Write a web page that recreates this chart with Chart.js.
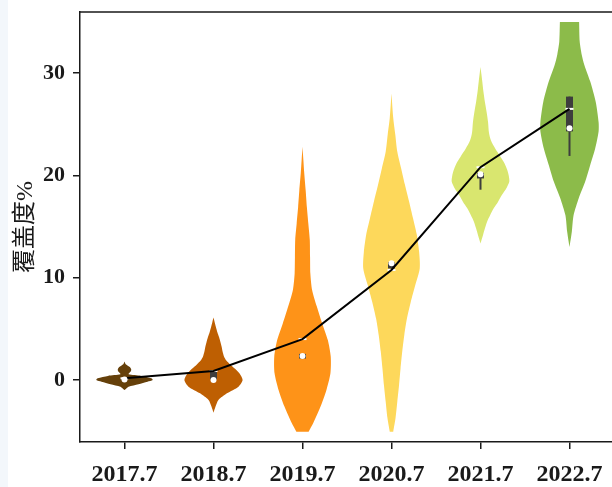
<!DOCTYPE html>
<html>
<head>
<meta charset="utf-8">
<script src="https://cdn.jsdelivr.net/npm/chart.js@4.4.1/dist/chart.umd.min.js"></script>
<style>
  html, body { margin: 0; padding: 0; background: #f3f7fb; overflow: hidden; }
  #wrap { position: absolute; left: 8px; top: 0; width: 612px; height: 487px; background: #fff; }
</style>
</head>
<body>
<div id="wrap"><canvas id="c"></canvas></div>
<script>
// Survey years and y-axis ticks
const YEARS = ['2017.7', '2018.7', '2019.7', '2020.7', '2021.7', '2022.7'];
const Y_TICKS = [0, 10, 20, 30];

// Density outline of each year's coverage: levels (%) and relative half-width (1 = widest)
const LEVELS_2017 = [-0.98, -0.8, -0.65, -0.42, -0.16, 0, 0.17, 0.4, 0.55, 0.7, 0.85, 1.05, 1.25, 1.45, 1.6, 1.8];
const DENS_2017   = [0, 0.07, 0.14, 0.48, 0.79, 0.97, 0.92, 0.57, 0.14, 0.17, 0.22, 0.23, 0.19, 0.09, 0.03, 0];
const LEVELS_2018 = [-3.2, -2.6, -1.95, -1.3, -0.65, 0, 0.65, 1.1, 1.5, 1.9, 2.3, 2.8, 3.25, 3.7, 4.2, 4.7, 5.2, 5.65, 6.1];
const DENS_2018   = [0, 0.07, 0.17, 0.46, 0.86, 1.0, 0.89, 0.74, 0.58, 0.44, 0.36, 0.31, 0.28, 0.24, 0.19, 0.13, 0.08, 0.04, 0];
const LEVELS_2019 = [-5.05, -4.2, -2.6, -1.0, 0.65, 2.3, 3.9, 5.5, 7.2, 8.8, 10.4, 12.0, 13.7, 15.3, 16.9, 18.5, 20.2, 21.5, 22.8];
const DENS_2019   = [0.21, 0.37, 0.62, 0.82, 0.96, 0.97, 0.87, 0.68, 0.49, 0.33, 0.27, 0.26, 0.25, 0.2, 0.15, 0.11, 0.06, 0.03, 0];
const LEVELS_2020 = [-5.05, -3.7, -2.1, -0.5, 1.1, 2.8, 4.4, 6.0, 7.6, 9.3, 10.9, 12.5, 14.2, 15.8, 17.5, 19.1, 20.7, 22.3, 24.0, 25.6, 28.0];
const DENS_2020   = [0.06, 0.14, 0.2, 0.26, 0.31, 0.37, 0.44, 0.53, 0.66, 0.82, 0.97, 0.95, 0.87, 0.74, 0.6, 0.46, 0.33, 0.2, 0.13, 0.06, 0];
const LEVELS_2021 = [13.35, 14.2, 14.8, 15.5, 16.1, 16.8, 17.4, 18.1, 18.8, 19.4, 20.0, 20.6, 21.3, 21.9, 22.6, 23.4, 24.2, 25.2, 26.2, 27.2, 28.2, 29.2, 29.9, 30.6];
const DENS_2021   = [0, 0.09, 0.15, 0.23, 0.33, 0.46, 0.6, 0.74, 0.9, 0.99, 0.97, 0.91, 0.8, 0.67, 0.51, 0.36, 0.29, 0.26, 0.21, 0.15, 0.1, 0.06, 0.03, 0];
const LEVELS_2022 = [13.0, 14.5, 16.1, 17.8, 19.4, 21.0, 22.6, 24.3, 25.2, 27.2, 29.2, 30.8, 31.8, 33.1, 35.0];
const DENS_2022   = [0, 0.08, 0.14, 0.32, 0.54, 0.71, 0.88, 1.0, 1.0, 0.9, 0.71, 0.51, 0.42, 0.35, 0.33];

// Summary statistics per year (%)
const MEANS    = [0.17, 0.88, 4.0, 10.75, 20.8, 26.5];
const MEDIANS  = [0.05, 0.0, 2.35, 11.4, 20.1, 24.6];
const Q1       = [0.0, 0.05, 2.1, 10.9, 19.7, 24.3];
const Q3       = [0.2, 0.85, 2.55, 11.5, 20.25, 27.7];
const WHISK_LO = [0.0, 0.0, 2.1, 10.9, 18.6, 21.9];
const WHISK_HI = [0.2, 0.85, 2.55, 11.5, 20.25, 27.7];

const VIOLIN_LEVELS = [LEVELS_2017, LEVELS_2018, LEVELS_2019, LEVELS_2020, LEVELS_2021, LEVELS_2022];
const VIOLIN_DENS   = [DENS_2017, DENS_2018, DENS_2019, DENS_2020, DENS_2021, DENS_2022];
const COLORS = ['#65400a', '#be5f02', '#fe9318', '#fdd85b', '#d9e66f', '#8cbb4a'];

const HALF_WIDTH = 0.327;   // widest half-width, in category units
const SERIF = '"Liberation Serif", "Times New Roman", serif';
const INK = '#1a1a1a';

// Closed violin outline. The path starts and ends on the cut (flat) end so
// those corners stay sharp while the rest of the edge is smoothed.
function outline(i, levels, dens) {
  const pts = levels.map((v, k) => ({ v, d: dens[k] }));
  if (dens[dens.length - 1] > dens[0]) pts.reverse();
  const right = pts.map(p => ({ x: i + p.d * HALF_WIDTH, y: p.v }));
  const left = pts.map(p => ({ x: i - p.d * HALF_WIDTH, y: p.v })).reverse();
  return right.concat(left);
}

const datasets = [];

// violins
YEARS.forEach((_, i) => {
  datasets.push({
    data: outline(i, VIOLIN_LEVELS[i], VIOLIN_DENS[i]),
    backgroundColor: COLORS[i],
    borderWidth: 0,
    fill: 'shape',
    pointRadius: 0,
    tension: 0.25,
    order: 10
  });
});

// whiskers and interquartile boxes
YEARS.forEach((_, i) => {
  datasets.push({
    data: [{ x: i, y: WHISK_LO[i] }, { x: i, y: WHISK_HI[i] }],
    borderColor: '#3d3d3d',
    borderWidth: 2,
    pointRadius: 0,
    fill: false,
    order: 9
  });
  datasets.push({
    data: [{ x: i, y: Q1[i] }, { x: i, y: Q3[i] }],
    borderColor: '#3d3d3d',
    borderWidth: 7,
    borderCapStyle: 'butt',
    pointRadius: 0,
    fill: false,
    order: 8
  });
});

// mean markers
datasets.push({
  data: MEANS.map((m, i) => ({ x: i, y: m })),
  showLine: false,
  pointStyle: 'line',
  pointRadius: 4,
  pointBorderColor: '#ffffff',
  pointBorderWidth: 2,
  order: 4
});

// line through the yearly means
datasets.push({
  data: MEANS.map((m, i) => ({ x: i, y: m })),
  borderColor: '#000000',
  borderWidth: 2,
  pointRadius: 0,
  fill: false,
  tension: 0,
  order: 3
});

// medians
datasets.push({
  data: MEDIANS.map((m, i) => ({ x: i, y: m })),
  showLine: false,
  pointRadius: 3,
  pointBackgroundColor: '#ffffff',
  pointBorderWidth: 0,
  order: 1
});

// top and right edges of the plot frame
const frame = {
  id: 'frame',
  afterDraw(chart) {
    const { ctx, chartArea: a } = chart;
    ctx.save();
    ctx.strokeStyle = INK;
    ctx.lineWidth = 1.5;
    ctx.beginPath();
    ctx.moveTo(a.left, a.top);
    ctx.lineTo(a.right, a.top);
    ctx.lineTo(a.right, a.bottom);
    ctx.stroke();
    ctx.restore();
  }
};

new Chart(document.getElementById('c'), {
  type: 'line',
  data: { datasets },
  plugins: [frame],
  options: {
    responsive: true,
    maintainAspectRatio: false,
    animation: false,
    layout: { padding: { top: 12, right: 5, left: 0, bottom: 0 } },
    plugins: { legend: { display: false }, tooltip: { enabled: false } },
    scales: {
      x: {
        type: 'linear',
        min: -0.5,
        max: 5.5,
        afterBuildTicks: s => { s.ticks = YEARS.map((_, i) => ({ value: i })); },
        afterFit: s => { s.height = 45; s.paddingLeft = 0; s.paddingRight = 0; },
        ticks: {
          callback: v => YEARS[v],
          font: { family: SERIF, size: 24, weight: 'bold' },
          color: INK,
          padding: 11,
          maxRotation: 0,
          autoSkip: false
        },
        grid: { display: true, drawOnChartArea: false, drawTicks: true, tickLength: 7, color: INK, lineWidth: 1.5 },
        border: { display: true, color: INK, width: 1.5 }
      },
      y: {
        type: 'linear',
        min: -6.06,
        max: 35.97,
        afterBuildTicks: s => { s.ticks = Y_TICKS.map(v => ({ value: v })); },
        afterFit: s => { s.width = 72; s.paddingTop = 0; s.paddingBottom = 0; },
        ticks: {
          font: { family: SERIF, size: 22, weight: 'bold' },
          color: INK,
          padding: 8
        },
        title: {
          display: true,
          text: '覆盖度%',
          font: { family: '"Liberation Serif", "Noto Sans CJK SC", serif', size: 24 },
          color: INK,
          padding: { top: 3, bottom: 0 }
        },
        grid: { display: true, drawOnChartArea: false, drawTicks: true, tickLength: 7, color: INK, lineWidth: 1.5 },
        border: { display: true, color: INK, width: 1.5 }
      }
    }
  }
});
</script>
</body>
</html>
